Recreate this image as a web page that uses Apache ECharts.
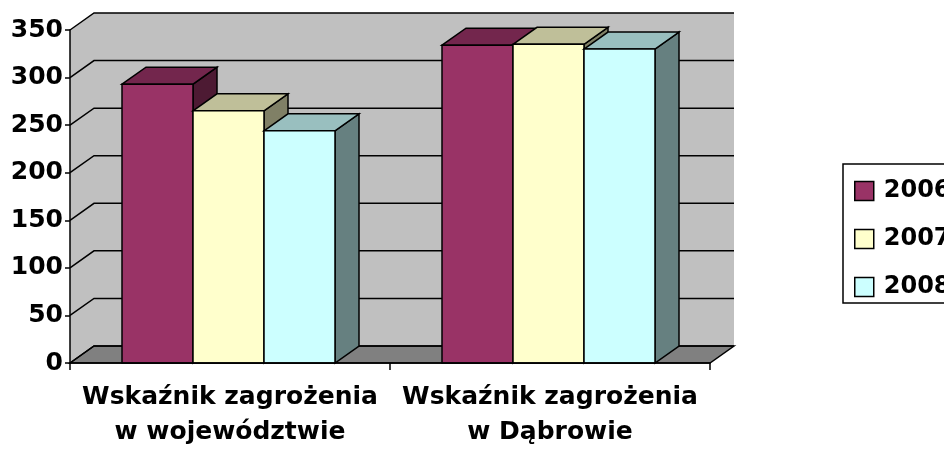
<!DOCTYPE html>
<html>
<head>
<meta charset="utf-8">
<script src="https://cdn.jsdelivr.net/npm/echarts@6/dist/echarts.min.js"></script>
<style>
  html, body { margin: 0; padding: 0; background: #fff; }
  #chart { width: 944px; height: 452px; }
</style>
</head>
<body>
<div id="chart"></div>
<script>
const categories = ['Wskaźnik zagrożenia\nw województwie', 'Wskaźnik zagrożenia\nw Dąbrowie']
const years = ['2006', '2007', '2008']
const values2006 = [293, 334]
const values2007 = [265, 335]
const values2008 = [244, 330]
const yTicks = [0, 50, 100, 150, 200, 250, 300, 350]

// glebokosc "3D" w pikselach
const DX = 24
const DY = 17
const BAR_W = 71
const FONT = '"DejaVu Sans", "Liberation Sans", Arial, sans-serif'

const colors = [
  { front: '#993366', top: '#73264d', side: '#4d1a33' },
  { front: '#ffffcc', top: '#bfbf99', side: '#808066' },
  { front: '#ccffff', top: '#99bfbf', side: '#668080' }
]
const edge = { stroke: '#000', lineWidth: 1.5 }

// tylna sciana, boczna sciana, podloga i linie siatki - wszystko w jednym elemencie
const renderWall = (params, api) => {
  const cs = params.coordSys
  const yMax = api.coord([0, yTicks[yTicks.length - 1]])[1]
  const y0 = api.coord([0, yTicks[0]])[1]
  const x0 = cs.x
  const x1 = cs.x + cs.width
  const children = [
    {
      type: 'polygon',
      shape: { points: [[x0, yMax], [x0 + DX, yMax - DY], [x1 + DX, yMax - DY], [x1 + DX, y0 - DY], [x0, y0]] },
      style: { fill: '#c0c0c0' }
    },
    {
      type: 'polygon',
      shape: { points: [[x0, y0], [x0 + DX, y0 - DY], [x1 + DX, y0 - DY], [x1, y0]] },
      style: { fill: '#808080', stroke: '#000', lineWidth: 1.5 }
    }
  ]
  yTicks.forEach((t) => {
    const y = api.coord([0, t])[1]
    children.push({
      type: 'polyline',
      shape: { points: [[x0, y], [x0 + DX, y - DY], [x1 + DX, y - DY]] },
      style: { fill: null, stroke: '#000', lineWidth: 1.5 }
    })
  })
  return { type: 'group', children: children }
}

const makeBarRenderer = (idx) => (params, api) => {
  const cat = api.value(0)
  const top = api.coord([cat, api.value(1)])
  const bottom = api.coord([cat, 0])
  const left = top[0] - 1.5 * BAR_W - 1.5 + idx * BAR_W
  const right = left + BAR_W
  const yt = top[1]
  const yb = bottom[1]
  const c = colors[idx]
  return {
    type: 'group',
    children: [
      {
        type: 'polygon',
        shape: { points: [[right, yt], [right + DX, yt - DY], [right + DX, yb - DY], [right, yb]] },
        style: Object.assign({ fill: c.side }, edge)
      },
      {
        type: 'polygon',
        shape: { points: [[left, yt], [left + DX, yt - DY], [right + DX, yt - DY], [right, yt]] },
        style: Object.assign({ fill: c.top }, edge)
      },
      {
        type: 'rect',
        shape: { x: left, y: yt, width: BAR_W, height: yb - yt },
        style: Object.assign({ fill: c.front }, edge)
      }
    ]
  }
}

const seriesData = [values2006, values2007, values2008]

const option = {
  animation: false,
  backgroundColor: '#fff',
  grid: { left: 70, right: 234, top: 30, bottom: 89, containLabel: false },
  legend: {
    orient: 'vertical',
    left: 843,
    top: 164,
    data: years,
    icon: 'rect',
    itemWidth: 19,
    itemHeight: 19,
    itemGap: 24,
    padding: [15, 40, 4, 11],
    borderColor: '#000',
    borderWidth: 1.5,
    itemStyle: { borderColor: '#000', borderWidth: 1.5 },
    textStyle: { color: '#000', fontSize: 24, fontWeight: 'bold', fontFamily: FONT, lineHeight: 24, padding: [0, 0, 0, 5] }
  },
  xAxis: {
    type: 'category',
    data: categories,
    z: 10,
    axisLine: { lineStyle: { color: '#000', width: 1.5 } },
    axisTick: { show: true, length: 7, lineStyle: { color: '#000', width: 1.5 } },
    axisLabel: { interval: 0, color: '#000', fontSize: 25, fontWeight: 'bold', fontFamily: FONT, lineHeight: 35, margin: 17 },
    splitLine: { show: false }
  },
  yAxis: {
    type: 'value',
    min: 0,
    max: 350,
    interval: 50,
    z: 10,
    axisLine: { show: true, lineStyle: { color: '#000', width: 1.5 } },
    axisTick: { show: true, length: 5, lineStyle: { color: '#000', width: 1.5 } },
    axisLabel: { color: '#000', fontSize: 25, fontWeight: 'bold', fontFamily: FONT, margin: 7 },
    splitLine: { show: false }
  },
  series: [
    {
      type: 'custom',
      name: 'wall',
      z: 1,
      silent: true,
      renderItem: renderWall,
      data: [[0, 0]],
      encode: { x: 0, y: 1 }
    }
  ].concat(years.map((yr, i) => ({
    type: 'custom',
    name: yr,
    z: 2,
    itemStyle: { color: colors[i].front },
    renderItem: makeBarRenderer(i),
    data: seriesData[i].map((v, k) => [k, v]),
    encode: { x: 0, y: 1 }
  })))
}

const chart = echarts.init(document.getElementById('chart'))
chart.setOption(option)
</script>
</body>
</html>
